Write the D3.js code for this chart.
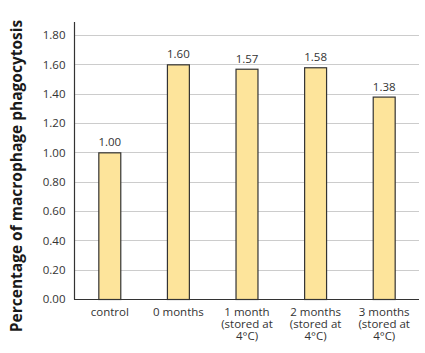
<!DOCTYPE html>
<html>
<head>
<meta charset="utf-8">
<script src="https://cdn.jsdelivr.net/npm/d3@7"></script>
<style>
  body { margin: 0; background: #fff; }
  svg { display: block; }
</style>
</head>
<body>
<svg id="chart" width="425" height="353"></svg>
<script>
const categories = [
  ["control"],
  ["0 months"],
  ["1 month", "(stored at", "4°C)"],
  ["2 months", "(stored at", "4°C)"],
  ["3 months", "(stored at", "4°C)"]
];
const values = [1.00, 1.60, 1.57, 1.58, 1.38];
const valueLabels = ["1.00", "1.60", "1.57", "1.58", "1.38"];
const yTicks = [0, 0.2, 0.4, 0.6, 0.8, 1.0, 1.2, 1.4, 1.6, 1.8];
const yTitle = "Percentage of macrophage phagocytosis";

(function () {
const svg = d3.select("#chart");
const mLeft = 75, mRight = 418, mTop = 22, mBottom = 299;
const font = "'Open Sans', 'Noto Sans', sans-serif";
const fs = 11.5;

const x = d3.scaleBand()
  .domain(d3.range(values.length))
  .range([mLeft, mRight])
  .paddingInner(0.68)
  .paddingOuter(0.34);

const y = d3.scaleLinear().domain([0, 1.8]).range([mBottom, mBottom - 1.8 * 146.67]);

// gridlines
svg.append("g")
  .selectAll("line")
  .data(yTicks.filter(d => d > 0))
  .join("line")
  .attr("x1", mLeft).attr("x2", mRight + 1)
  .attr("y1", d => Math.round(y(d)) + 0.5)
  .attr("y2", d => Math.round(y(d)) + 0.5)
  .attr("stroke", "#cccccc")
  .attr("stroke-width", 1);

// y axis
const yAxis = d3.axisLeft(y).tickValues(yTicks).tickFormat(d3.format(".2f")).tickSize(0).tickPadding(9);
const gy = svg.append("g").attr("transform", `translate(${mLeft - 0.5},0)`).call(yAxis);
gy.select(".domain").remove();
gy.selectAll("text").attr("font-family", font).attr("font-size", fs).attr("fill", "#333");
svg.append("line")
  .attr("x1", mLeft - 0.5).attr("x2", mLeft - 0.5)
  .attr("y1", mTop).attr("y2", mBottom + 0.5)
  .attr("stroke", "#333").attr("stroke-width", 1.2);
svg.append("line")
  .attr("x1", mLeft - 1).attr("x2", mRight + 1)
  .attr("y1", mBottom + 0.5).attr("y2", mBottom + 0.5)
  .attr("stroke", "#333").attr("stroke-width", 1.2);

// bars
svg.append("g")
  .selectAll("rect")
  .data(values)
  .join("rect")
  .attr("x", (d, i) => x(i) + 0.5)
  .attr("width", x.bandwidth())
  .attr("y", d => y(d) + 0.5)
  .attr("height", d => mBottom - y(d))
  .attr("fill", "#fde49b")
  .attr("stroke", "#333")
  .attr("stroke-width", 1.2);

// value labels
svg.append("g")
  .selectAll("text")
  .data(values)
  .join("text")
  .attr("x", (d, i) => x(i) + x.bandwidth() / 2 + 0.5)
  .attr("y", d => y(d) - 6)
  .attr("text-anchor", "middle")
  .attr("font-family", font).attr("font-size", fs).attr("fill", "#333")
  .text((d, i) => valueLabels[i]);

// x labels
const xl = svg.append("g")
  .selectAll("text")
  .data(categories)
  .join("text")
  .attr("x", (d, i) => x(i) + x.bandwidth() / 2 + 0.5)
  .attr("y", 316)
  .attr("text-anchor", "middle")
  .attr("font-family", font).attr("font-size", fs).attr("fill", "#333");
xl.selectAll("tspan")
  .data(d => d)
  .join("tspan")
  .attr("x", function() { return this.parentNode.getAttribute("x"); })
  .attr("dy", (d, j) => j === 0 ? 0 : 11.8)
  .text(d => d);

// y title
svg.append("text")
  .attr("transform", `translate(22,176) rotate(-90)`)
  .attr("text-anchor", "middle")
  .attr("font-family", font).attr("font-size", 15.5).attr("font-weight", "bold")
  .attr("fill", "#1a1a1a")
  .text(yTitle);
})();
</script>
</body>
</html>
